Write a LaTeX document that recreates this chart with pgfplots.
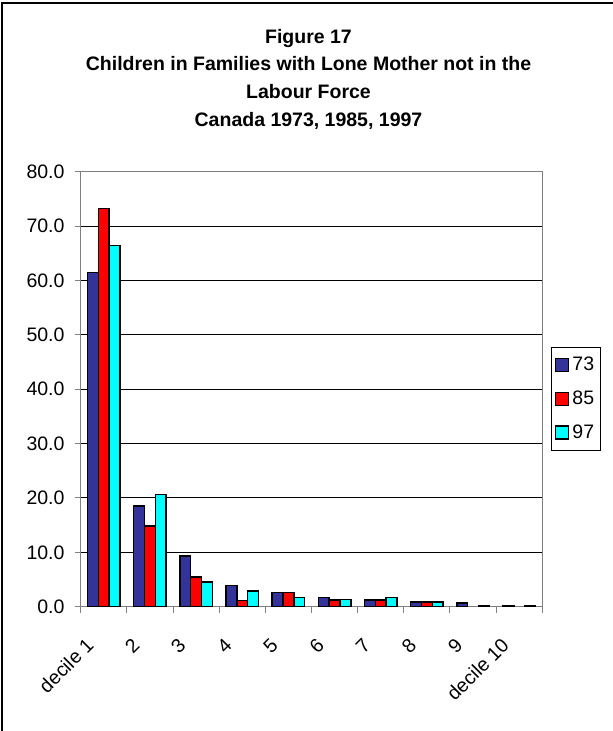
\documentclass[border=0pt]{standalone}
\usepackage{fontspec}
\setmainfont{Liberation Sans}
\usepackage{pgfplots}
\pgfplotsset{compat=1.18}
\definecolor{c73}{HTML}{333399}
\definecolor{c85}{HTML}{FF0000}
\definecolor{c97}{HTML}{00FFFF}
\definecolor{axgray}{HTML}{808080}
\pgfplotsset{sqleg/.style={legend image code/.code={\draw[##1, line width=1.2pt] (0pt,-6.5pt) rectangle (13pt,6.5pt);}}}
\begin{document}
\begin{tikzpicture}
\useasboundingbox (0pt,0pt) rectangle (613pt,731pt);
\draw[black, line width=1.2pt] (2pt,0pt) -- (2pt,728pt) -- (613pt,728pt);
\begin{scope}[every node/.style={font=\fontsize{19.5}{23}\selectfont\bfseries, anchor=base, inner sep=0pt}]
\node at (308.5pt,687.7pt) {Figure 17};
\node at (308.5pt,660pt) {Children in Families with Lone Mother not in the};
\node at (308.5pt,632.3pt) {Labour Force};
\node at (308.5pt,604.7pt) {Canada 1973, 1985, 1997};
\end{scope}
\begin{axis}[
  at={(80.7pt,124.3pt)}, anchor=south west,
  scale only axis, width=461.6pt, height=435pt,
  ymin=0, ymax=80, ytick={0,10,...,80},
  xmin=0.5, xmax=10.5,
  ybar=0pt, bar width=10.8pt,
  xtick={0.7,1.7,2.7,3.7,4.7,5.7,6.7,7.7,8.7,9.7},
  xticklabels={decile 1,2,3,4,5,6,7,8,9,decile 10},
  minor xtick={0.5,1.5,2.5,3.5,4.5,5.5,6.5,7.5,8.5,9.5,10.5},
  tick pos=left,
  tick align=outside, major tick length=6pt, minor tick length=6pt,
  major x tick style={draw=none},
  tick style={axgray, line width=1pt},
  axis line style={axgray, line width=1.2pt},
  ymajorgrids, grid style={black, line width=0.9pt},
  yticklabel style={/pgf/number format/fixed, /pgf/number format/fixed zerofill, /pgf/number format/precision=1, /pgf/number format/assume math mode=true, inner sep=0pt},
  ticklabel style={font=\fontsize{19.5}{23}\selectfont},
  yticklabel shift=10pt,
  xticklabel style={rotate=45, anchor=east, inner sep=0pt},
  xticklabel shift=29pt,
  legend style={at={(1.0182,0.5977)}, anchor=north west, draw=black, line width=1pt,
    font=\fontsize{19.5}{23}\selectfont, inner xsep=4pt, inner ysep=8pt,
    nodes={inner sep=2pt}, row sep=14.8pt, column sep=1pt},
  legend cell align=left,
]
\addplot[fill=c73, draw=black, line width=1.5pt, sqleg] coordinates {(1,61.5) (2,18.5) (3,9.3) (4,3.9) (5,2.6) (6,1.7) (7,1.2) (8,0.9) (9,0.7) (10,0.2)};
\addplot[fill=c85, draw=black, line width=1.5pt, sqleg] coordinates {(1,73.2) (2,14.8) (3,5.5) (4,1.1) (5,2.6) (6,1.2) (7,1.2) (8,0.9)};
\addplot[fill=c97, draw=black, line width=1.5pt, sqleg] coordinates {(1,66.4) (2,20.6) (3,4.5) (4,2.9) (5,1.7) (6,1.35) (7,1.7) (8,0.9) (9,0.2) (10,0.2)};
\legend{73,85,97}
\end{axis}
\end{tikzpicture}
\end{document}
